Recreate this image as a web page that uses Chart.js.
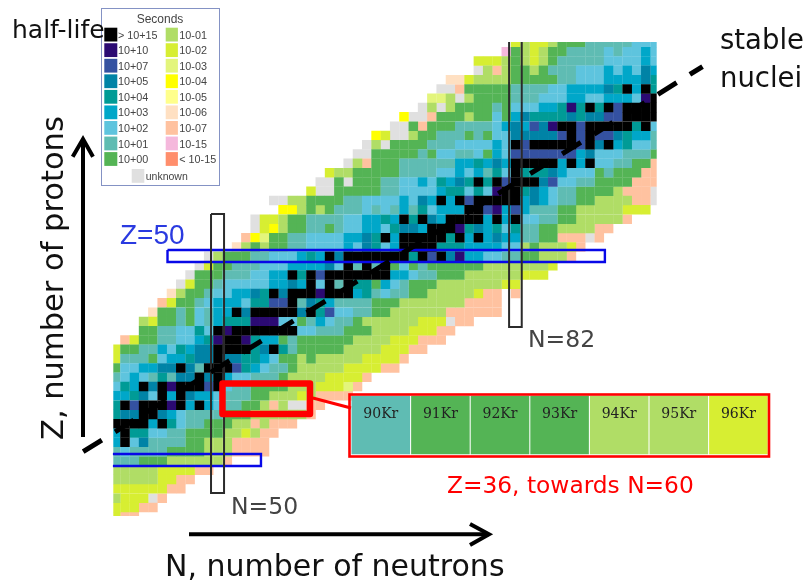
<!DOCTYPE html>
<html>
<head>
<meta charset="utf-8">
<style>
  html, body { margin: 0; padding: 0; background: #fff; }
  canvas { display: block; }
</style>
<script src="https://cdn.jsdelivr.net/npm/chart.js@4"></script>
</head>
<body>
<canvas id="nuclideChart" width="806" height="583"></canvas>
<script>
// half-life classes: one letter per class, same order as the legend
const classCodes = ['K', 'P', 'B', 'T', 'G', 'C', 'L', 'M', 'E', 'A', 'Y', 'Z', 'F', 'H', 'O', 'S', 'N', 'R', 'U'];
const classLabels = ['> 10+15', '10+10', '10+07', '10+05', '10+04', '10+03', '10+02', '10+01', '10+00',
  '10-01', '10-02', '10-03', '10-04', '10-05', '10-06', '10-07', '10-15', '< 10-15', 'unknown'];
const classColors = ['#000000', '#2b0a72', '#3451a1', '#0083a6', '#009b96', '#00a7c9', '#5ec4de', '#5fbcb3', '#54b455',
  '#b0dd66', '#d7ee32', '#e3f57c', '#ffff00', '#ffff8c', '#ffe0c2', '#ffc2a0', '#f5b8dc', '#ff8e6c', '#e0e0e0'];

// one entry per proton number, from Z=73 down to Z=22
const topZ = 73;
const firstN = [82, 81, 78, 78, 75, 74, 73, 72, 70, 69, 67, 66, 65, 64, 62, 61, 60, 56, 57, 54, 54, 53, 52, 49, 48, 47,
  46, 45, 44, 43, 42, 42, 40, 39, 39, 39, 39, 39, 39, 39, 39, 39, 39, 39, 39, 39, 39, 39, 39, 39, 39, 39];
const rowCodes = [
  'YAYYAEEEMMMMMLLL',
  'NEAYAEEMMMMLMLLCL',
  'YYYAEAYAEMMMMMLLLLCL',
  'UASAEEAEMMMLLLCLCLTC',
  'OOYAAAAEEEEEMMLLLCCCCTG',
  'UUSEEEEEMMMMLLCCCCTGKCKG',
  'ZZAUAEEEEMMMLLLCCLLCCCLPK',
  'UAUAEEEEMELLLCCGPGKGKBKKKK',
  'FUUSEEEAEELECTGGGGTGTTBBKKKK',
  'UUESEEEMMMMLCTCBTPKKBKKKKKGKL',
  'FYUUAEEMMMEMELLTTTTTBKBKBBTGCCM',
  'UAUEEEEMMMLLLLCLKBKKKKKBKTKCGLLM',
  'UUEEEEEMELLMMLECLBBBBBBBCTLLLMMME',
  'UASEEEMMMMMMCCGCTCKKKKKCKCKLLMMEES',
  'YAAEEEEEMMMMLLCLCMGLKGGGTCLLLEMEEESS',
  'UUEUEEEMMLLCLGCTGKGKBKKKTBLLMMEEEESSS',
  'YUUEEEEEMMLLLLCGGLGLPKKGTCLMMEEEEASSSU',
  'UUAAEEEEMMLLLLCLTCKCKBKKKKKCTCLMMEEAAAASSU',
  'FFAEAEMMMLMLMCMGLCCCKKBPCBCMMMEEAAAAAYYY',
  'UYYAEEMMMMLLCCGCKGKTCKKKKCKCKLLMMEEAAAAAS',
  'UYFAEEMMEMLLCCLGTTCKKKPGTCGLGMMEEAAAASS',
  'SFZEEMMLLLLCCTGKCKKKKKGKCKCTCCMMEESSSUS',
  'OAEAEEMMLLLLCLTGLCKKKKGGGCCCCLLAEAAAYS',
  'UAEEEMMLLLCGCKTKKKKKKKGKBKTPCCLLMMEEAAAS',
  'UYEEMMMLLLCCCCTLKMKMKELEMEEEEEEAAAAAAAY',
  'UEEEMMMLLCCKGKBKKKKKKKCCLMMEEEAAAAAAYYY',
  'UYEEMLLLLLCCTCKLKMKGGECLMEEEAAAAAAAYY',
  'OAEEMLLCCTGKTKKKPKKKCGMLMMEEAAAAAYSS.S',
  'SYEEMLCCCLGGBBKMTGCMMMMEEEAAAAAAASSSS',
  'OEEMELMCCKTKKKKKTKGBLLMMEEAAAAAASSSSSS',
  'AYEEMELMCGGGPPPLLEMCLMMEAAAAAAYYYUSS',
  'EEMMLLGLKPKKKKKKKLLMMMEEEAAAAYYYSS',
  'SYEEMMLLCGPKKPGCCEMEEEEEEAAAAYYYSSS',
  'YEEMMCLGCTTKKKKGTKGMEEEEEAAAAYYYSS',
  'YMMMELCCGTTKTTGGCLEEAEAAAAAYYYYS',
  'ELLCCTTKTMKKKBGCLMMEAAAAAYYYYSS',
  'MLCLMGMTTKTKCLLMMMEAAAAYYYYS',
  'LGCKTKPKKKBKLMMEEEEAAAYYYZS',
  'CCGTLKCKTCCLMMMEEAAAYASSSS',
  'GKBKKKPKCKCLMMEEASAUUSS',
  'GTTKKTCLMMMMEEEAAAAAAS',
  'KKKKCKGLMMEEEAASASSS',
  'CKGGLLMMEEEEAAYASS',
  'CKLTMMMMEEAAASSSS',
  'MLMMMMEEEEAAASSSS',
  'MMMEEEAAAAAAS',
  'AAAAAYYYYSS',
  'AAAAAYYSS',
  'YYYYYYSS',
  'AYYYUS',
  'YYYSS',
  'YSS'
];

// inset: Z=36 krypton isotopes
const insetMass = [90, 91, 92, 93, 94, 95, 96];
const insetCodes = ['M', 'E', 'E', 'E', 'A', 'A', 'Y'];

// dashed stable line and the magic number boxes, in N / Z units
const stableN = [35.5, 102.1];
const stableZ = [29, 70.4];
const boxN50 = [[49.25, 54.55], [50.65, 54.55], [50.65, 24.55], [49.25, 24.55], [49.25, 54.55]];
const boxN82 = [[81.3, 73.05], [81.3, 42.4], [82.66, 42.4], [82.66, 73.05]];
const boxZ50 = [[44.57, 50.68], [91.6, 50.68], [91.6, 49.39], [44.57, 49.39], [44.57, 50.68]];
const boxZ28 = [[38.7, 28.75], [54.62, 28.75], [54.62, 27.46], [38.7, 27.46]];
const redBox = [[50.48, 36.33], [59.89, 36.33], [59.89, 33.05], [50.48, 33.05], [50.48, 36.33], [59.89, 36.33]];
const redLink = [[60.2, 34.77], [64.3, 33.7]];

// one cell is 9.3 px, N=50 sits at x=218 and Z=50 at y=256.35
const cellPx = 9.3;
const insetPx = 59.6;
const mainFont = '"DejaVu Sans"';

function colorOf(code) {
  return classColors[classCodes.indexOf(code)];
}

function toPoints(list) {
  return list.map(p => ({ x: p[0], y: p[1] }));
}

function lineSet(points, color, width) {
  return {
    type: 'scatter',
    data: toPoints(points),
    showLine: true,
    fill: false,
    borderColor: color,
    borderWidth: width,
    pointRadius: 0,
    tension: 0,
    order: 1
  };
}

// every cell goes in the dataset of its half-life class
const cellSets = classCodes.map((code, i) => {
  const cells = [];
  rowCodes.forEach((row, r) => {
    row.split('').forEach((c, k) => {
      if (c === code) cells.push({ x: firstN[r] + k, y: topZ - r });
    });
  });
  return {
    label: classLabels[i],
    data: cells,
    backgroundColor: classColors[i],
    borderWidth: 0,
    pointStyle: 'rect',
    pointRadius: 6.75,
    isCell: true,
    order: 3
  };
});

const insetSet = {
  label: 'Z=36',
  data: insetMass.map(m => ({ x: m, y: 0 })),
  backgroundColor: insetCodes.map(colorOf),
  borderWidth: 0,
  pointStyle: 'rect',
  pointRadius: 41.4,
  xAxisID: 'xi',
  yAxisID: 'yi',
  order: 2
};

const stableSet = lineSet(stableN.map((n, i) => [n, stableZ[i]]), '#000', 5);
stableSet.borderDash = [22, 15.6];
stableSet.order = 0;

const redSet = lineSet(redBox, '#ff0000', 6.5);
redSet.borderJoinStyle = 'round';
redSet.order = 0;

const overlaySets = [
  lineSet(boxN50, '#2b2b2b', 2),
  lineSet(boxN82, '#2b2b2b', 2),
  lineSet(boxZ50, '#0808e8', 2.4),
  lineSet(boxZ28, '#0808e8', 2.4),
  lineSet(redLink, '#ff0000', 3),
  redSet,
  stableSet
];

// the nuclide cells stop at the edge of the picture they were cut from
const cellClip = {
  id: 'cellClip',
  beforeDatasetDraw(chart, args) {
    if (!args.meta._dataset.isCell) return;
    chart.ctx.save();
    chart.ctx.beginPath();
    chart.ctx.rect(113.3, 42, 543.4, 474);
    chart.ctx.clip();
  },
  afterDatasetDraw(chart, args) {
    if (args.meta._dataset.isCell) chart.ctx.restore();
  }
};

function label(ctx, text, x, y, font, color, align) {
  ctx.font = font;
  ctx.fillStyle = color;
  ctx.textAlign = align || 'left';
  ctx.textBaseline = 'alphabetic';
  ctx.fillText(text, x, y);
}

function arrow(ctx, x0, y0, x1, y1, head) {
  ctx.strokeStyle = '#000';
  ctx.lineWidth = 4;
  ctx.lineJoin = 'miter';
  ctx.beginPath();
  ctx.moveTo(x0, y0);
  ctx.lineTo(x1, y1);
  ctx.stroke();
  ctx.beginPath();
  ctx.moveTo(head[0], head[1]);
  ctx.lineTo(x1, y1);
  ctx.lineTo(head[2], head[3]);
  ctx.stroke();
}

const annotations = {
  id: 'annotations',
  afterDraw(chart) {
    const ctx = chart.ctx;
    const xi = chart.scales.xi;
    ctx.save();

    // inset frame and isotope names
    ctx.strokeStyle = '#ff0000';
    ctx.lineWidth = 2.6;
    ctx.strokeRect(xi.getPixelForValue(89.5) - 1.5, 394.5, 419.5, 62);
    insetMass.forEach(m => {
      label(ctx, m + 'Kr', xi.getPixelForValue(m), 417.5, '14px "DejaVu Serif"', '#222', 'center');
    });
    label(ctx, 'Z=36, towards N=60', 447, 493, '23.3px ' + mainFont, '#ff0000');

    // legend box
    ctx.strokeStyle = '#8492c4';
    ctx.lineWidth = 1;
    ctx.fillStyle = '#fff';
    ctx.fillRect(101.5, 8.5, 118, 177);
    ctx.strokeRect(101.5, 8.5, 118, 177);
    label(ctx, 'half-life', 12, 38, '25px ' + mainFont, '#111');
    label(ctx, 'Seconds', 160, 23, '12px "Liberation Sans"', '#444', 'center');
    classCodes.forEach((code, i) => {
      if (code === 'U') {
        ctx.fillStyle = colorOf(code);
        ctx.fillRect(131.7, 169, 12.6, 13.8);
        label(ctx, classLabels[i], 145.7, 180, '10.5px "Liberation Sans"', '#444');
        return;
      }
      const col = i < 9 ? 0 : 1;
      const row = i < 9 ? i : i - 9;
      const top = 27.7 + row * 15.55;
      ctx.fillStyle = colorOf(code);
      ctx.fillRect(col ? 165.7 : 104.3, top, col ? 12.2 : 13, 13.8);
      label(ctx, classLabels[i], col ? 179.3 : 118, top + 11, '10.8px "Liberation Sans"', '#444');
    });

    // axis arrows and titles
    arrow(ctx, 83, 437, 83, 139, [72.7, 156.7, 93, 156.7]);
    arrow(ctx, 189, 534.3, 489, 534.3, [470, 524, 470, 545]);
    label(ctx, 'N, number of neutrons', 165, 576, '30px ' + mainFont, '#111');
    ctx.save();
    ctx.translate(63, 440);
    ctx.rotate(-Math.PI / 2);
    label(ctx, 'Z, number of protons', 0, 0, '30.5px ' + mainFont, '#111');
    ctx.restore();
    label(ctx, 'stable', 720, 49, '27.5px ' + mainFont, '#111');
    label(ctx, 'nuclei', 720, 87, '27.5px ' + mainFont, '#111');

    // magic number names
    label(ctx, 'Z=50', 120, 244, '28px "Liberation Sans"', '#2a3ae0');
    label(ctx, 'N=50', 231, 514, '23.5px "DejaVu Sans"', '#444');
    label(ctx, 'N=82', 528, 347, '23.5px "DejaVu Sans"', '#444');
    ctx.restore();
  }
};

new Chart(document.getElementById('nuclideChart').getContext('2d'), {
  type: 'scatter',
  data: { datasets: cellSets.concat([insetSet], overlaySets) },
  options: {
    responsive: false,
    animation: false,
    events: [],
    layout: { padding: 0, autoPadding: false },
    plugins: { legend: { display: false }, tooltip: { enabled: false } },
    scales: {
      x: { display: false, min: 50 - 218 / cellPx, max: 50 + (806 - 218) / cellPx },
      y: { display: false, min: 50 - (583 - 256.35) / cellPx, max: 50 + 256.35 / cellPx },
      xi: { display: false, axis: 'x', min: 89.5 - 351 / insetPx, max: 89.5 + (806 - 351) / insetPx },
      yi: { display: false, axis: 'y', min: -(583 - 425) / 60, max: 425 / 60 }
    }
  },
  plugins: [cellClip, annotations]
});
</script>
</body>
</html>
